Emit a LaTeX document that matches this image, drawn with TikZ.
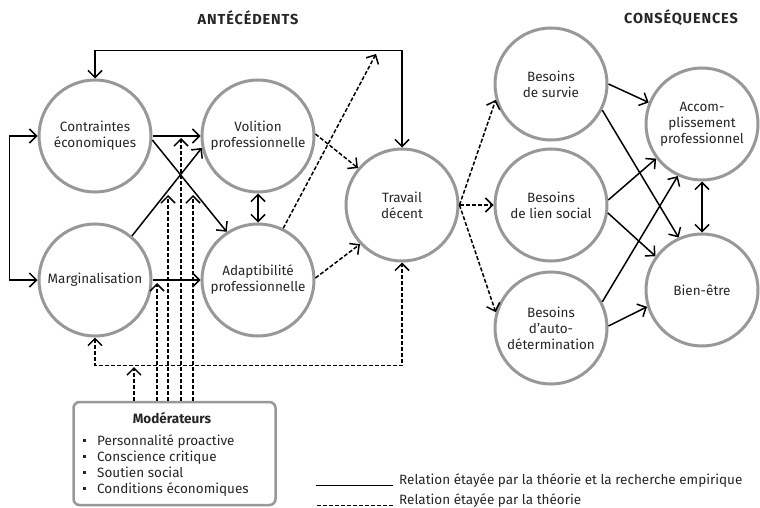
\documentclass[tikz,border=0pt]{standalone}
\usepackage{fontspec}
\setmainfont{Fira Sans}
\usetikzlibrary{arrows.meta,calc}
\definecolor{circgray}{RGB}{152,152,152}
\newcommand{\mybul}{\makebox[15pt][l]{\hspace{1pt}\raisebox{3pt}{\rule{2.6pt}{2.6pt}}}}
\begin{document}
\begin{tikzpicture}[x=1pt,y=-1pt,
  every node/.style={font=\fontsize{13.5}{16}\selectfont, text=black!85},
  circ/.style={circle, draw=circgray, line width=3pt, minimum size=112pt, inner sep=0pt, align=center},
  arr/.style={line width=1.5pt, -{Straight Barb[length=7pt,width=14pt]}},
  barr/.style={line width=1.5pt, {Straight Barb[length=7pt,width=14pt]}-{Straight Barb[length=7pt,width=14pt]}},
  dsh/.style={dash pattern=on 4pt off 2pt},
  darr/.style={arr, dsh},
  head/.style={font=\fontsize{14.5}{16}\bfseries\addfontfeatures{LetterSpace=6}, text=black!85}
]
\useasboundingbox (0,0) rectangle (760,508);

% headings
\node[head] (h1) at (248,18) {ANTÉCÉDENTS};
\node[head] (h2) at (681,18) {CONSÉQUENCES};

% circles
\node[circ] (C) at (95,136) {Contraintes\\économiques};
\node[circ] (V) at (258,136) {Volition\\professionnelle};
\node[circ] (M) at (95,280) {Marginalisation};
\node[circ] (A) at (258,280) {Adaptibilité\\professionnelle};
\node[circ] (T) at (402,205) {Travail\\décent};
\node[circ] (S1) at (551,84) {Besoins\\de survie};
\node[circ] (S2) at (551,205) {Besoins\\de lien social};
\node[circ] (S3) at (551,328) {Besoins\\d’auto-\\détermination};
\node[circ] (AC) at (702,124) {Accom-\\plissement\\professionnel};
\node[circ] (B) at (702,290) {Bien-être};

% moderators box
\node[draw=circgray, line width=2.5pt, rounded corners=6pt, minimum width=202pt, minimum height=103pt, inner sep=0pt] (Mod) at (174.5,453.5) {};
\node[font=\fontsize{13.5}{16}\bfseries, text=black!85] (ModT) at (172,418) {Modérateurs};
\node[anchor=north west, align=left, inner sep=0pt, font=\fontsize{13.5}{16}\selectfont] (ModL) at (82,434)
  {\mybul Personnalité proactive\\
   \mybul Conscience critique\\
   \mybul Soutien social\\
   \mybul Conditions économiques};

% loops
\draw[barr] (C.north) -- ++(0,-28) -| (T.north);
\draw[barr] (M.west) -- ++(-28,0) |- (C.west);
\draw[barr, dsh] (M.south) -- ++(0,28) -| (T.south);

% antecedents (solid)
\draw[arr] (C.east) -- (V.west);
\draw[arr] (C.-4) -- (A.123);
\draw[arr] (M.50) -- (V.192);
\draw[arr] (M.east) -- (A.west);
\draw[barr] (V.south) -- (A.north);

% antecedents (dashed)
\coordinate (topTip) at (376,54);
\draw[darr] (V.2) -- (T.140);
\draw[darr] (A.64) -- (topTip);
\draw[darr] (A.2) -- (T.223);

% travail -> besoins
\draw[darr] (T.east) -- (S1.196);
\draw[darr] (T.east) -- (S2.west);
\draw[darr] (T.east) -- (S3.164);

% besoins -> outcomes
\draw[arr] (S1.east) -- (AC.158);
\draw[arr] (S1.-27) -- (B.114);
\draw[arr] (S2.5) -- (AC.217);
\draw[arr] (S2.-8) -- (B.144);
\draw[arr] (S3.27) -- (AC.245);
\draw[arr] (S3.2) -- (B.197);
\draw[barr] (AC.south) -- (B.north);

% moderator arrows
\coordinate (t1) at (134,367);
\coordinate (t2) at (157,283);
\coordinate (t3) at (168,195);
\coordinate (t4) at (181,138);
\coordinate (t5) at (193,195);
\foreach \t in {t1,t2,t3,t4,t5} \draw[darr] (\t |- Mod.north) -- (\t);

% legend
\node[anchor=base west, inner sep=0pt] (L1) at (399,484) {Relation étayée par la théorie et la recherche empirique};
\node[anchor=base west, inner sep=0pt] (L2) at (399,504) {Relation étayée par la théorie};
\draw[line width=1.5pt] ($(L1.base west)+(-6,1.5)$) -- ++(-77,0);
\draw[line width=1.5pt, dsh] ($(L2.base west)+(-6,1.5)$) -- ++(-77,0);
\end{tikzpicture}
\end{document}
